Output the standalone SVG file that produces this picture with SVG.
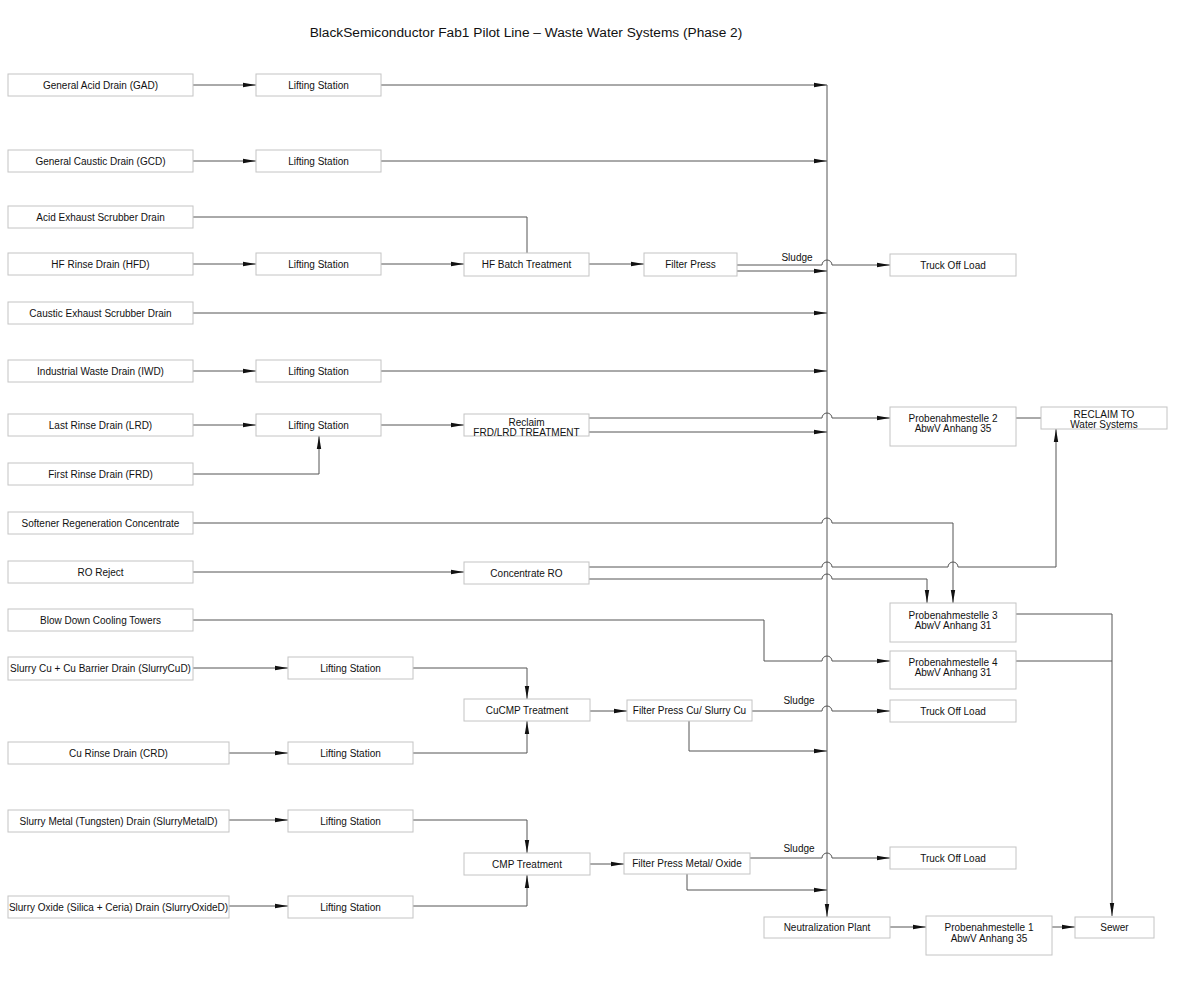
<svg xmlns="http://www.w3.org/2000/svg" width="1200" height="1004" viewBox="0 0 1200 1004">
<style>
.n rect{fill:#fff;stroke:#c4c4c4;stroke-width:1}
text{font-family:"Liberation Sans",Arial,sans-serif;font-size:10px;fill:#111;text-anchor:middle}
.t{font-size:13.7px}
.c path{fill:none;stroke:#555;stroke-width:1}
.a{marker-end:url(#ah)}
</style>
<defs>
<marker id="ah" markerUnits="userSpaceOnUse" markerWidth="13" markerHeight="7" viewBox="0 0 13 7" refX="13" refY="3.5" orient="auto"><path d="M0,1.3 L13,3.5 L0,5.7 z" fill="#111"/></marker>
</defs>
<rect width="1200" height="1004" fill="#fff"/>
<text class="t" x="526" y="37">BlackSemiconductor Fab1 Pilot Line – Waste Water Systems (Phase 2)</text>
<g class="c">
<path class="a" d="M193,85 H256"/>
<path class="a" d="M381,85 H827"/>
<path class="a" d="M193,161 H256"/>
<path class="a" d="M381,161 H827"/>
<path d="M193,217 H527 V253"/>
<path class="a" d="M193,264 H256"/>
<path class="a" d="M381,264 H464"/>
<path class="a" d="M589,264 H644"/>
<path class="a" d="M737,265 H822 A5,5 0 0 1 832,265 H890"/>
<path class="a" d="M737,271 H827"/>
<path class="a" d="M193,313 H827"/>
<path class="a" d="M193,371 H256"/>
<path class="a" d="M381,371 H827"/>
<path class="a" d="M193,425 H256"/>
<path class="a" d="M193,474 H319 V436"/>
<path class="a" d="M381,425 H464"/>
<path class="a" d="M589,418 H822 A5,5 0 0 1 832,418 H890"/>
<path class="a" d="M589,432 H827"/>
<path d="M1016,418 H1041"/>
<path class="a" d="M193,523 H822 A5,5 0 0 1 832,523 H953 V603"/>
<path class="a" d="M193,572 H464"/>
<path class="a" d="M589,567 H822 A5,5 0 0 1 832,567 H948 A5,5 0 0 1 958,567 H1056 V429"/>
<path class="a" d="M589,579 H822 A5,5 0 0 1 832,579 H927 V603"/>
<path class="a" d="M193,620 H764 V661 H822 A5,5 0 0 1 832,661 H890"/>
<path class="a" d="M1016,614 H1112 V916"/>
<path d="M1016,661 H1112"/>
<path class="a" d="M193,668 H288"/>
<path class="a" d="M413,668 H527 V699"/>
<path class="a" d="M229,753 H288"/>
<path class="a" d="M413,753 H527 V721"/>
<path class="a" d="M590,711 H627"/>
<path class="a" d="M752,711 H822 A5,5 0 0 1 832,711 H890"/>
<path class="a" d="M689,721 V751 H827"/>
<path class="a" d="M229,820 H288"/>
<path class="a" d="M413,820 H527 V853"/>
<path class="a" d="M229,906 H288"/>
<path class="a" d="M413,906 H527 V875"/>
<path class="a" d="M590,864 H624"/>
<path class="a" d="M750,858 H822 A5,5 0 0 1 832,858 H890"/>
<path class="a" d="M687,874 V890 H827"/>
<path class="a" d="M827,85 V917"/>
<path class="a" d="M890,927 H926"/>
<path class="a" d="M1052,927 H1075"/>
</g>
<g>
<text x="797" y="261">Sludge</text>
<text x="799" y="704">Sludge</text>
<text x="799" y="852">Sludge</text>
</g>
<g class="n" id="gad"><rect x="8" y="74" width="185" height="22"/><text x="100.5" y="88.5">General Acid Drain (GAD)</text></g>
<g class="n" id="gcd"><rect x="8" y="150" width="185" height="22"/><text x="100.5" y="164.5">General Caustic Drain (GCD)</text></g>
<g class="n" id="aesd"><rect x="8" y="206" width="185" height="22"/><text x="100.5" y="220.5">Acid Exhaust Scrubber Drain</text></g>
<g class="n" id="hfd"><rect x="8" y="253" width="185" height="22"/><text x="100.5" y="267.5">HF Rinse Drain (HFD)</text></g>
<g class="n" id="cesd"><rect x="8" y="302" width="185" height="22"/><text x="100.5" y="316.5">Caustic Exhaust Scrubber Drain</text></g>
<g class="n" id="iwd"><rect x="8" y="360" width="185" height="22"/><text x="100.5" y="374.5">Industrial Waste Drain (IWD)</text></g>
<g class="n" id="lrd"><rect x="8" y="414" width="185" height="22"/><text x="100.5" y="428.5">Last Rinse Drain (LRD)</text></g>
<g class="n" id="frd"><rect x="8" y="463" width="185" height="22"/><text x="100.5" y="477.5">First Rinse Drain (FRD)</text></g>
<g class="n" id="src"><rect x="8" y="512" width="185" height="22"/><text x="100.5" y="526.5">Softener Regeneration Concentrate</text></g>
<g class="n" id="ror"><rect x="8" y="561" width="185" height="22"/><text x="100.5" y="575.5">RO Reject</text></g>
<g class="n" id="bdct"><rect x="8" y="609" width="185" height="22"/><text x="100.5" y="623.5">Blow Down Cooling Towers</text></g>
<g class="n" id="scud"><rect x="8" y="657" width="185" height="23"/><text x="100.5" y="671.5">Slurry Cu + Cu Barrier Drain (SlurryCuD)</text></g>
<g class="n" id="crd"><rect x="8" y="742" width="221" height="22"/><text x="118.5" y="756.5">Cu Rinse Drain (CRD)</text></g>
<g class="n" id="smd"><rect x="8" y="810" width="221" height="22"/><text x="118.5" y="824.5">Slurry Metal (Tungsten) Drain (SlurryMetalD)</text></g>
<g class="n" id="sod"><rect x="8" y="896" width="221" height="22"/><text x="118.5" y="910.5">Slurry Oxide (Silica + Ceria) Drain (SlurryOxideD)</text></g>
<g class="n" id="ls1"><rect x="256" y="74" width="125" height="22"/><text x="318.5" y="88.5">Lifting Station</text></g>
<g class="n" id="ls2"><rect x="256" y="150" width="125" height="22"/><text x="318.5" y="164.5">Lifting Station</text></g>
<g class="n" id="ls3"><rect x="256" y="253" width="125" height="22"/><text x="318.5" y="267.5">Lifting Station</text></g>
<g class="n" id="ls4"><rect x="256" y="360" width="125" height="22"/><text x="318.5" y="374.5">Lifting Station</text></g>
<g class="n" id="ls5"><rect x="256" y="414" width="125" height="22"/><text x="318.5" y="428.5">Lifting Station</text></g>
<g class="n" id="ls6"><rect x="288" y="657" width="125" height="22"/><text x="350.5" y="671.5">Lifting Station</text></g>
<g class="n" id="ls7"><rect x="288" y="742" width="125" height="22"/><text x="350.5" y="756.5">Lifting Station</text></g>
<g class="n" id="ls8"><rect x="288" y="810" width="125" height="22"/><text x="350.5" y="824.5">Lifting Station</text></g>
<g class="n" id="ls9"><rect x="288" y="896" width="125" height="22"/><text x="350.5" y="910.5">Lifting Station</text></g>
<g class="n" id="hfbt"><rect x="464" y="253" width="125" height="23"/><text x="526.5" y="268">HF Batch Treatment</text></g>
<g class="n" id="fp"><rect x="644" y="253" width="93" height="23"/><text x="690.5" y="268">Filter Press</text></g>
<g class="n" id="rfl"><rect x="464" y="414" width="125" height="22"/><text x="526.5" y="425.5">Reclaim</text><text x="526.5" y="435.5">FRD/LRD TREATMENT</text></g>
<g class="n" id="cro"><rect x="464" y="562" width="125" height="22"/><text x="526.5" y="576.5">Concentrate RO</text></g>
<g class="n" id="cucmp"><rect x="464" y="699" width="126" height="22"/><text x="527" y="713.5">CuCMP Treatment</text></g>
<g class="n" id="fpcu"><rect x="627" y="700" width="125" height="21"/><text x="689.5" y="714">Filter Press Cu/ Slurry Cu</text></g>
<g class="n" id="cmp"><rect x="464" y="853" width="126" height="22"/><text x="527" y="867.5">CMP Treatment</text></g>
<g class="n" id="fpmo"><rect x="624" y="853" width="126" height="21"/><text x="687" y="867">Filter Press Metal/ Oxide</text></g>
<g class="n" id="tol1"><rect x="890" y="254" width="126" height="22"/><text x="953" y="268.5">Truck Off Load</text></g>
<g class="n" id="tol2"><rect x="890" y="700" width="126" height="22"/><text x="953" y="714.5">Truck Off Load</text></g>
<g class="n" id="tol3"><rect x="890" y="847" width="126" height="22"/><text x="953" y="861.5">Truck Off Load</text></g>
<g class="n" id="p2"><rect x="890" y="407" width="126" height="39"/><text x="953" y="421.5">Probenahmestelle 2</text><text x="953" y="432">AbwV Anhang 35</text></g>
<g class="n" id="rtw"><rect x="1041" y="407" width="126" height="22"/><text x="1104" y="417.5">RECLAIM TO</text><text x="1104" y="427.5">Water Systems</text></g>
<g class="n" id="p3"><rect x="890" y="603" width="126" height="39"/><text x="953" y="618.5">Probenahmestelle 3</text><text x="953" y="628.5">AbwV Anhang 31</text></g>
<g class="n" id="p4"><rect x="890" y="651" width="126" height="38"/><text x="953" y="665.5">Probenahmestelle 4</text><text x="953" y="675.5">AbwV Anhang 31</text></g>
<g class="n" id="np"><rect x="764" y="917" width="126" height="21"/><text x="827" y="931">Neutralization Plant</text></g>
<g class="n" id="p1"><rect x="926" y="916" width="126" height="39"/><text x="989" y="931">Probenahmestelle 1</text><text x="989" y="941.5">AbwV Anhang 35</text></g>
<g class="n" id="sewer"><rect x="1075" y="917" width="79" height="21"/><text x="1114.5" y="931">Sewer</text></g>
</svg>
